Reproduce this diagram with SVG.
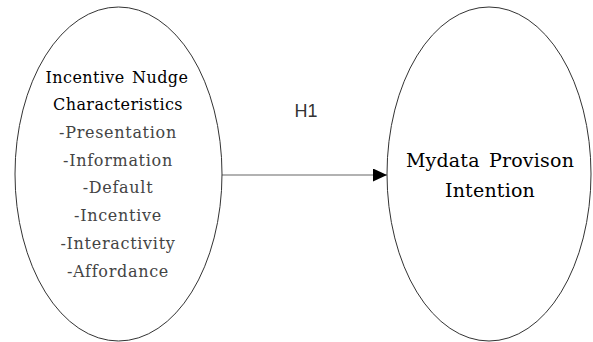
<svg xmlns="http://www.w3.org/2000/svg" width="593" height="342" viewBox="0 0 593 342">
<style>
.node{fill:#fff;stroke:#333;stroke-width:1}
.t{font-family:"DejaVu Serif","Liberation Serif",serif;text-anchor:middle}
.h{font-size:16px;fill:#000;letter-spacing:0.4px;word-spacing:2px}
.i{font-size:16px;fill:#444;letter-spacing:0.7px}
.m{font-size:19px;fill:#000;letter-spacing:0.2px;word-spacing:3px}
.lbl{font-family:"Liberation Sans",Arial,sans-serif;font-size:18px;fill:#333;text-anchor:middle}
.edge{stroke:#999;stroke-width:1.5;fill:none}
</style>
<defs>
<marker id="arr" markerWidth="14" markerHeight="13" refX="14" refY="6.5" orient="auto" markerUnits="userSpaceOnUse">
<path d="M0,0 L14,6.5 L0,13 z" fill="#000"/>
</marker>
</defs>
<rect width="593" height="342" fill="#fff"/>
<g id="connectors">
<line class="edge" x1="219" y1="175" x2="387" y2="175" marker-end="url(#arr)"/>
<text class="lbl" x="306" y="117">H1</text>
</g>
<g id="nudge">
<ellipse class="node" cx="118.5" cy="174" rx="103.5" ry="167"/>
<text class="t h" x="117" y="83">Incentive Nudge</text>
<text class="t h" x="118" y="110">Characteristics</text>
<text class="t i" x="118" y="138">-Presentation</text>
<text class="t i" x="118" y="166">-Information</text>
<text class="t i" x="118" y="193">-Default</text>
<text class="t i" x="118" y="221">-Incentive</text>
<text class="t i" x="118" y="249">-Interactivity</text>
<text class="t i" x="118" y="277">-Affordance</text>
</g>
<g id="intention">
<ellipse class="node" cx="489" cy="174" rx="102" ry="167"/>
<text class="t m" x="490" y="167">Mydata Provison</text>
<text class="t m" x="490" y="197">Intention</text>
</g>
</svg>
